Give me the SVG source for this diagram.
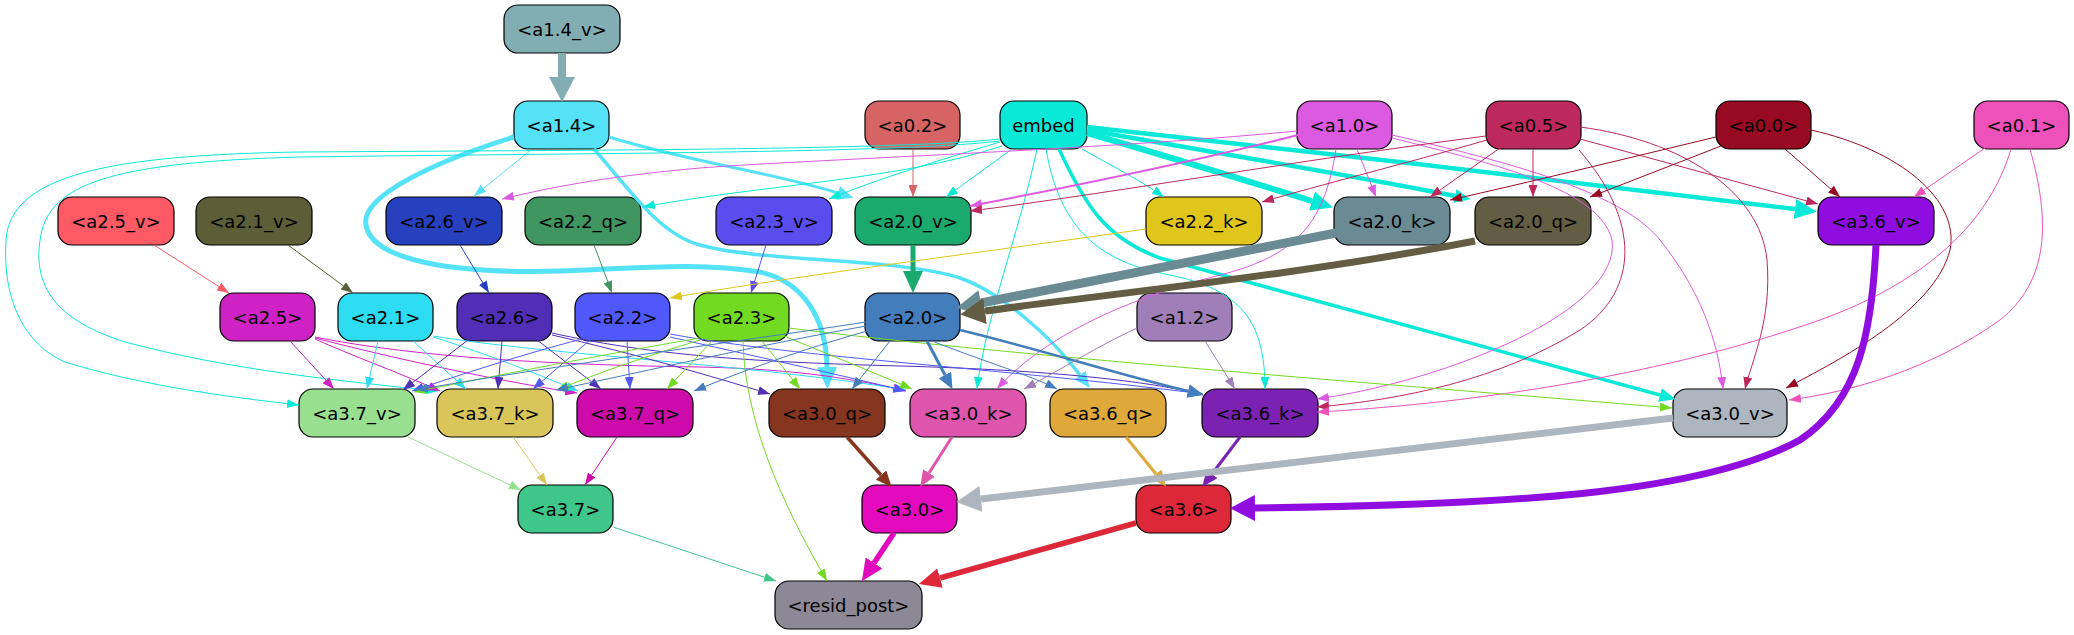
<svg xmlns="http://www.w3.org/2000/svg" width="2074" height="635" viewBox="0 0 2074 635">
<style>
.node rect{stroke:#000;stroke-width:1.2}
.node text{font-family:"DejaVu Sans","Liberation Sans",sans-serif;font-size:18px;text-anchor:middle;fill:#000}
#edges path{fill:none}
</style>
<defs>
<marker id="s-55e2f7" markerUnits="userSpaceOnUse" markerWidth="12" markerHeight="9" refX="12" refY="4.5" orient="auto"><path d="M0,0L12,4.5L0,9z" fill="#55e2f7"/></marker>
<marker id="s-0ae8d7" markerUnits="userSpaceOnUse" markerWidth="12" markerHeight="9" refX="12" refY="4.5" orient="auto"><path d="M0,0L12,4.5L0,9z" fill="#0ae8d7"/></marker>
<marker id="s-dc5ae0" markerUnits="userSpaceOnUse" markerWidth="12" markerHeight="9" refX="12" refY="4.5" orient="auto"><path d="M0,0L12,4.5L0,9z" fill="#dc5ae0"/></marker>
<marker id="s-bd295c" markerUnits="userSpaceOnUse" markerWidth="12" markerHeight="9" refX="12" refY="4.5" orient="auto"><path d="M0,0L12,4.5L0,9z" fill="#bd295c"/></marker>
<marker id="s-970a22" markerUnits="userSpaceOnUse" markerWidth="12" markerHeight="9" refX="12" refY="4.5" orient="auto"><path d="M0,0L12,4.5L0,9z" fill="#970a22"/></marker>
<marker id="s-ee51ba" markerUnits="userSpaceOnUse" markerWidth="12" markerHeight="9" refX="12" refY="4.5" orient="auto"><path d="M0,0L12,4.5L0,9z" fill="#ee51ba"/></marker>
<marker id="s-d66465" markerUnits="userSpaceOnUse" markerWidth="12" markerHeight="9" refX="12" refY="4.5" orient="auto"><path d="M0,0L12,4.5L0,9z" fill="#d66465"/></marker>
<marker id="s-fd5a66" markerUnits="userSpaceOnUse" markerWidth="12" markerHeight="9" refX="12" refY="4.5" orient="auto"><path d="M0,0L12,4.5L0,9z" fill="#fd5a66"/></marker>
<marker id="s-5b5e36" markerUnits="userSpaceOnUse" markerWidth="12" markerHeight="9" refX="12" refY="4.5" orient="auto"><path d="M0,0L12,4.5L0,9z" fill="#5b5e36"/></marker>
<marker id="s-2741be" markerUnits="userSpaceOnUse" markerWidth="12" markerHeight="9" refX="12" refY="4.5" orient="auto"><path d="M0,0L12,4.5L0,9z" fill="#2741be"/></marker>
<marker id="s-3f9660" markerUnits="userSpaceOnUse" markerWidth="12" markerHeight="9" refX="12" refY="4.5" orient="auto"><path d="M0,0L12,4.5L0,9z" fill="#3f9660"/></marker>
<marker id="s-5a4ded" markerUnits="userSpaceOnUse" markerWidth="12" markerHeight="9" refX="12" refY="4.5" orient="auto"><path d="M0,0L12,4.5L0,9z" fill="#5a4ded"/></marker>
<marker id="s-e0c61b" markerUnits="userSpaceOnUse" markerWidth="12" markerHeight="9" refX="12" refY="4.5" orient="auto"><path d="M0,0L12,4.5L0,9z" fill="#e0c61b"/></marker>
<marker id="s-cf22c5" markerUnits="userSpaceOnUse" markerWidth="12" markerHeight="9" refX="12" refY="4.5" orient="auto"><path d="M0,0L12,4.5L0,9z" fill="#cf22c5"/></marker>
<marker id="s-2ddcf0" markerUnits="userSpaceOnUse" markerWidth="12" markerHeight="9" refX="12" refY="4.5" orient="auto"><path d="M0,0L12,4.5L0,9z" fill="#2ddcf0"/></marker>
<marker id="s-502eb5" markerUnits="userSpaceOnUse" markerWidth="12" markerHeight="9" refX="12" refY="4.5" orient="auto"><path d="M0,0L12,4.5L0,9z" fill="#502eb5"/></marker>
<marker id="s-5158fa" markerUnits="userSpaceOnUse" markerWidth="12" markerHeight="9" refX="12" refY="4.5" orient="auto"><path d="M0,0L12,4.5L0,9z" fill="#5158fa"/></marker>
<marker id="s-72db21" markerUnits="userSpaceOnUse" markerWidth="12" markerHeight="9" refX="12" refY="4.5" orient="auto"><path d="M0,0L12,4.5L0,9z" fill="#72db21"/></marker>
<marker id="s-437dbc" markerUnits="userSpaceOnUse" markerWidth="12" markerHeight="9" refX="12" refY="4.5" orient="auto"><path d="M0,0L12,4.5L0,9z" fill="#437dbc"/></marker>
<marker id="s-a07fb8" markerUnits="userSpaceOnUse" markerWidth="12" markerHeight="9" refX="12" refY="4.5" orient="auto"><path d="M0,0L12,4.5L0,9z" fill="#a07fb8"/></marker>
<marker id="s-98e08f" markerUnits="userSpaceOnUse" markerWidth="12" markerHeight="9" refX="12" refY="4.5" orient="auto"><path d="M0,0L12,4.5L0,9z" fill="#98e08f"/></marker>
<marker id="s-d8c65a" markerUnits="userSpaceOnUse" markerWidth="12" markerHeight="9" refX="12" refY="4.5" orient="auto"><path d="M0,0L12,4.5L0,9z" fill="#d8c65a"/></marker>
<marker id="s-cd0aaa" markerUnits="userSpaceOnUse" markerWidth="12" markerHeight="9" refX="12" refY="4.5" orient="auto"><path d="M0,0L12,4.5L0,9z" fill="#cd0aaa"/></marker>
<marker id="s-3fc68b" markerUnits="userSpaceOnUse" markerWidth="12" markerHeight="9" refX="12" refY="4.5" orient="auto"><path d="M0,0L12,4.5L0,9z" fill="#3fc68b"/></marker>
<marker id="m-55e2f7" markerUnits="userSpaceOnUse" markerWidth="16" markerHeight="14" refX="0" refY="7" orient="auto"><path d="M0,0L16,7L0,14z" fill="#55e2f7"/></marker>
<marker id="m-0ae8d7" markerUnits="userSpaceOnUse" markerWidth="16" markerHeight="14" refX="0" refY="7" orient="auto"><path d="M0,0L16,7L0,14z" fill="#0ae8d7"/></marker>
<marker id="m-437dbc" markerUnits="userSpaceOnUse" markerWidth="16" markerHeight="14" refX="0" refY="7" orient="auto"><path d="M0,0L16,7L0,14z" fill="#437dbc"/></marker>
<marker id="m-86351e" markerUnits="userSpaceOnUse" markerWidth="16" markerHeight="14" refX="0" refY="7" orient="auto"><path d="M0,0L16,7L0,14z" fill="#86351e"/></marker>
<marker id="m-de55ad" markerUnits="userSpaceOnUse" markerWidth="16" markerHeight="14" refX="0" refY="7" orient="auto"><path d="M0,0L16,7L0,14z" fill="#de55ad"/></marker>
<marker id="m-dea83b" markerUnits="userSpaceOnUse" markerWidth="16" markerHeight="14" refX="0" refY="7" orient="auto"><path d="M0,0L16,7L0,14z" fill="#dea83b"/></marker>
<marker id="m-7c22b3" markerUnits="userSpaceOnUse" markerWidth="16" markerHeight="14" refX="0" refY="7" orient="auto"><path d="M0,0L16,7L0,14z" fill="#7c22b3"/></marker>
<marker id="l-55e2f7" markerUnits="userSpaceOnUse" markerWidth="22" markerHeight="20" refX="0" refY="10" orient="auto"><path d="M0,0L22,10L0,20z" fill="#55e2f7"/></marker>
<marker id="l-0ae8d7" markerUnits="userSpaceOnUse" markerWidth="22" markerHeight="20" refX="0" refY="10" orient="auto"><path d="M0,0L22,10L0,20z" fill="#0ae8d7"/></marker>
<marker id="l-1ba96e" markerUnits="userSpaceOnUse" markerWidth="22" markerHeight="20" refX="0" refY="10" orient="auto"><path d="M0,0L22,10L0,20z" fill="#1ba96e"/></marker>
<marker id="l-e30abe" markerUnits="userSpaceOnUse" markerWidth="22" markerHeight="20" refX="0" refY="10" orient="auto"><path d="M0,0L22,10L0,20z" fill="#e30abe"/></marker>
<marker id="l-dc2838" markerUnits="userSpaceOnUse" markerWidth="22" markerHeight="20" refX="0" refY="10" orient="auto"><path d="M0,0L22,10L0,20z" fill="#dc2838"/></marker>
<marker id="xl-82adb2" markerUnits="userSpaceOnUse" markerWidth="25" markerHeight="26" refX="0" refY="13" orient="auto"><path d="M0,0L25,13L0,26z" fill="#82adb2"/></marker>
<marker id="xl-6a8b93" markerUnits="userSpaceOnUse" markerWidth="25" markerHeight="26" refX="0" refY="13" orient="auto"><path d="M0,0L25,13L0,26z" fill="#6a8b93"/></marker>
<marker id="xl-635d43" markerUnits="userSpaceOnUse" markerWidth="25" markerHeight="26" refX="0" refY="13" orient="auto"><path d="M0,0L25,13L0,26z" fill="#635d43"/></marker>
<marker id="xl-900ddf" markerUnits="userSpaceOnUse" markerWidth="25" markerHeight="26" refX="0" refY="13" orient="auto"><path d="M0,0L25,13L0,26z" fill="#900ddf"/></marker>
<marker id="xl-adb6be" markerUnits="userSpaceOnUse" markerWidth="25" markerHeight="26" refX="0" refY="13" orient="auto"><path d="M0,0L25,13L0,26z" fill="#adb6be"/></marker>
</defs>
<rect x="0" y="0" width="2074" height="635" fill="#fff"/>
<g id="nodes">
<g id="n-a1_4_v" class="node"><rect x="504" y="5" width="116" height="48" rx="14" fill="#82adb2"/><text x="562" y="35.5">&lt;a1.4_v&gt;</text></g>
<g id="n-a1_4" class="node"><rect x="514" y="101" width="95" height="48" rx="14" fill="#55e2f7"/><text x="561.5" y="131.5">&lt;a1.4&gt;</text></g>
<g id="n-a0_2" class="node"><rect x="865" y="101" width="95" height="48" rx="14" fill="#d66465"/><text x="912.5" y="131.5">&lt;a0.2&gt;</text></g>
<g id="n-embed" class="node"><rect x="1000" y="101" width="87" height="48" rx="14" fill="#0ae8d7"/><text x="1043.5" y="131.5">embed</text></g>
<g id="n-a1_0" class="node"><rect x="1297" y="101" width="95" height="48" rx="14" fill="#dc5ae0"/><text x="1344.5" y="131.5">&lt;a1.0&gt;</text></g>
<g id="n-a0_5" class="node"><rect x="1486" y="101" width="95" height="48" rx="14" fill="#bd295c"/><text x="1533.5" y="131.5">&lt;a0.5&gt;</text></g>
<g id="n-a0_0" class="node"><rect x="1716" y="101" width="95" height="48" rx="14" fill="#970a22"/><text x="1763.5" y="131.5">&lt;a0.0&gt;</text></g>
<g id="n-a0_1" class="node"><rect x="1974" y="101" width="95" height="48" rx="14" fill="#ee51ba"/><text x="2021.5" y="131.5">&lt;a0.1&gt;</text></g>
<g id="n-a2_5_v" class="node"><rect x="58" y="197" width="116" height="48" rx="14" fill="#fd5a66"/><text x="116" y="227.5">&lt;a2.5_v&gt;</text></g>
<g id="n-a2_1_v" class="node"><rect x="196" y="197" width="116" height="48" rx="14" fill="#5b5e36"/><text x="254" y="227.5">&lt;a2.1_v&gt;</text></g>
<g id="n-a2_6_v" class="node"><rect x="386" y="197" width="116" height="48" rx="14" fill="#2741be"/><text x="444" y="227.5">&lt;a2.6_v&gt;</text></g>
<g id="n-a2_2_q" class="node"><rect x="525" y="197" width="116" height="48" rx="14" fill="#3f9660"/><text x="583" y="227.5">&lt;a2.2_q&gt;</text></g>
<g id="n-a2_3_v" class="node"><rect x="716" y="197" width="116" height="48" rx="14" fill="#5a4ded"/><text x="774" y="227.5">&lt;a2.3_v&gt;</text></g>
<g id="n-a2_0_v" class="node"><rect x="855" y="197" width="116" height="48" rx="14" fill="#1ba96e"/><text x="913" y="227.5">&lt;a2.0_v&gt;</text></g>
<g id="n-a2_2_k" class="node"><rect x="1146" y="197" width="116" height="48" rx="14" fill="#e0c61b"/><text x="1204" y="227.5">&lt;a2.2_k&gt;</text></g>
<g id="n-a2_0_k" class="node"><rect x="1334" y="197" width="116" height="48" rx="14" fill="#6a8b93"/><text x="1392" y="227.5">&lt;a2.0_k&gt;</text></g>
<g id="n-a2_0_q" class="node"><rect x="1475" y="197" width="116" height="48" rx="14" fill="#635d43"/><text x="1533" y="227.5">&lt;a2.0_q&gt;</text></g>
<g id="n-a3_6_v" class="node"><rect x="1818" y="197" width="116" height="48" rx="14" fill="#900ddf"/><text x="1876" y="227.5">&lt;a3.6_v&gt;</text></g>
<g id="n-a2_5" class="node"><rect x="220" y="293" width="95" height="48" rx="14" fill="#cf22c5"/><text x="267.5" y="323.5">&lt;a2.5&gt;</text></g>
<g id="n-a2_1" class="node"><rect x="338" y="293" width="95" height="48" rx="14" fill="#2ddcf0"/><text x="385.5" y="323.5">&lt;a2.1&gt;</text></g>
<g id="n-a2_6" class="node"><rect x="457" y="293" width="95" height="48" rx="14" fill="#502eb5"/><text x="504.5" y="323.5">&lt;a2.6&gt;</text></g>
<g id="n-a2_2" class="node"><rect x="575" y="293" width="95" height="48" rx="14" fill="#5158fa"/><text x="622.5" y="323.5">&lt;a2.2&gt;</text></g>
<g id="n-a2_3" class="node"><rect x="694" y="293" width="95" height="48" rx="14" fill="#72db21"/><text x="741.5" y="323.5">&lt;a2.3&gt;</text></g>
<g id="n-a2_0" class="node"><rect x="865" y="293" width="95" height="48" rx="14" fill="#437dbc"/><text x="912.5" y="323.5">&lt;a2.0&gt;</text></g>
<g id="n-a1_2" class="node"><rect x="1137" y="293" width="95" height="48" rx="14" fill="#a07fb8"/><text x="1184.5" y="323.5">&lt;a1.2&gt;</text></g>
<g id="n-a3_7_v" class="node"><rect x="299" y="389" width="116" height="48" rx="14" fill="#98e08f"/><text x="357" y="419.5">&lt;a3.7_v&gt;</text></g>
<g id="n-a3_7_k" class="node"><rect x="437" y="389" width="116" height="48" rx="14" fill="#d8c65a"/><text x="495" y="419.5">&lt;a3.7_k&gt;</text></g>
<g id="n-a3_7_q" class="node"><rect x="577" y="389" width="116" height="48" rx="14" fill="#cd0aaa"/><text x="635" y="419.5">&lt;a3.7_q&gt;</text></g>
<g id="n-a3_0_q" class="node"><rect x="769" y="389" width="116" height="48" rx="14" fill="#86351e"/><text x="827" y="419.5">&lt;a3.0_q&gt;</text></g>
<g id="n-a3_0_k" class="node"><rect x="910" y="389" width="116" height="48" rx="14" fill="#de55ad"/><text x="968" y="419.5">&lt;a3.0_k&gt;</text></g>
<g id="n-a3_6_q" class="node"><rect x="1050" y="389" width="116" height="48" rx="14" fill="#dea83b"/><text x="1108" y="419.5">&lt;a3.6_q&gt;</text></g>
<g id="n-a3_6_k" class="node"><rect x="1202" y="389" width="116" height="48" rx="14" fill="#7c22b3"/><text x="1260" y="419.5">&lt;a3.6_k&gt;</text></g>
<g id="n-a3_0_v" class="node"><rect x="1673" y="389" width="114" height="48" rx="14" fill="#adb6be"/><text x="1730" y="419.5">&lt;a3.0_v&gt;</text></g>
<g id="n-a3_7" class="node"><rect x="518" y="485" width="95" height="48" rx="14" fill="#3fc68b"/><text x="565.5" y="515.5">&lt;a3.7&gt;</text></g>
<g id="n-a3_0" class="node"><rect x="862" y="485" width="95" height="48" rx="14" fill="#e30abe"/><text x="909.5" y="515.5">&lt;a3.0&gt;</text></g>
<g id="n-a3_6" class="node"><rect x="1136" y="485" width="95" height="48" rx="14" fill="#dc2838"/><text x="1183.5" y="515.5">&lt;a3.6&gt;</text></g>
<g id="n-resid_post" class="node"><rect x="775" y="581" width="147" height="48" rx="14" fill="#8d8896"/><text x="848.5" y="611.5">&lt;resid_post&gt;</text></g>
</g>
<g id="edges">
<path d="M562,53 L562,77" stroke="#82adb2" stroke-width="8" marker-end="url(#xl-82adb2)"/>
<path d="M531,150 L474,196" stroke="#55e2f7" stroke-width="1" marker-end="url(#s-55e2f7)"/>
<path d="M609,137 C690,162 770,172 838,193" stroke="#55e2f7" stroke-width="3" marker-end="url(#m-55e2f7)"/>
<path d="M514,137 C440,160 360,195 366,225 C372,262 460,274 560,271 C640,268 700,262 760,272 C805,282 826,320 827,367" stroke="#55e2f7" stroke-width="5" marker-end="url(#l-55e2f7)"/>
<path d="M594,149 C630,190 660,235 700,245 C760,262 900,258 960,278 C1000,292 1050,335 1080,375" stroke="#55e2f7" stroke-width="3.5" marker-end="url(#m-55e2f7)"/>
<path d="M913,149 L913,197" stroke="#d66465" stroke-width="1" marker-end="url(#s-d66465)"/>
<path d="M1012,149 L946,197" stroke="#0ae8d7" stroke-width="1" marker-end="url(#s-0ae8d7)"/>
<path d="M1000,142 C940,160 880,178 829,199" stroke="#0ae8d7" stroke-width="1" marker-end="url(#s-0ae8d7)"/>
<path d="M1002,146 C900,180 760,185 643,207" stroke="#0ae8d7" stroke-width="1" marker-end="url(#s-0ae8d7)"/>
<path d="M1000,139 C900,150 600,150 300,152 C110,155 10,175 6,240 C2,300 25,345 65,362 C140,385 220,396 299,405" stroke="#0ae8d7" stroke-width="1" marker-end="url(#s-0ae8d7)"/>
<path d="M1000,141 C900,153 600,153 300,157 C120,162 55,182 42,230 C28,290 62,322 125,342 C230,370 340,381 438,391" stroke="#0ae8d7" stroke-width="1" marker-end="url(#s-0ae8d7)"/>
<path d="M1082,149 C1110,165 1140,180 1164,197" stroke="#0ae8d7" stroke-width="1" marker-end="url(#s-0ae8d7)"/>
<path d="M1087,133 C1180,160 1260,185 1312,201" stroke="#0ae8d7" stroke-width="6" marker-end="url(#l-0ae8d7)"/>
<path d="M1087,130 C1200,150 1350,175 1455,196" stroke="#0ae8d7" stroke-width="4.5" marker-end="url(#m-0ae8d7)"/>
<path d="M1087,127 C1300,150 1600,185 1795,209" stroke="#0ae8d7" stroke-width="4.5" marker-end="url(#l-0ae8d7)"/>
<path d="M1059,149 C1085,205 1105,238 1160,258 L1660,395" stroke="#0ae8d7" stroke-width="3.5" marker-end="url(#m-0ae8d7)"/>
<path d="M1037,149 C1020,230 985,320 977,389" stroke="#0ae8d7" stroke-width="1" marker-end="url(#s-0ae8d7)"/>
<path d="M1046,149 C1060,230 1100,262 1170,275 C1240,290 1265,320 1265,389" stroke="#0ae8d7" stroke-width="1" marker-end="url(#s-0ae8d7)"/>
<path d="M1297,131 C1100,150 800,160 700,168 C620,175 560,185 502,199" stroke="#dc5ae0" stroke-width="1" marker-end="url(#s-dc5ae0)"/>
<path d="M1298,135 C1200,160 1080,185 970,206" stroke="#dc5ae0" stroke-width="2" marker-end="url(#s-dc5ae0)"/>
<path d="M1357,149 L1376,197" stroke="#dc5ae0" stroke-width="1" marker-end="url(#s-dc5ae0)"/>
<path d="M1336,149 C1325,220 1300,255 1220,275 C1120,300 1040,340 997,389" stroke="#dc5ae0" stroke-width="1" marker-end="url(#s-dc5ae0)"/>
<path d="M1392,135 C1500,160 1620,190 1660,240 C1700,290 1718,340 1723,389" stroke="#dc5ae0" stroke-width="1" marker-end="url(#s-dc5ae0)"/>
<path d="M1392,138 C1500,165 1600,190 1612,240 C1622,310 1450,380 1317,399" stroke="#dc5ae0" stroke-width="1" marker-end="url(#s-dc5ae0)"/>
<path d="M1486,136 C1300,160 1100,195 970,211" stroke="#bd295c" stroke-width="1" marker-end="url(#s-bd295c)"/>
<path d="M1487,140 C1400,165 1320,185 1262,202" stroke="#bd295c" stroke-width="1" marker-end="url(#s-bd295c)"/>
<path d="M1500,148 L1430,197" stroke="#bd295c" stroke-width="1" marker-end="url(#s-bd295c)"/>
<path d="M1533,149 L1533,197" stroke="#bd295c" stroke-width="1" marker-end="url(#s-bd295c)"/>
<path d="M1580,139 L1818,204" stroke="#bd295c" stroke-width="1" marker-end="url(#s-bd295c)"/>
<path d="M1580,127 C1680,140 1760,190 1767,260 C1772,320 1752,360 1745,389" stroke="#bd295c" stroke-width="1" marker-end="url(#s-bd295c)"/>
<path d="M1579,150 C1640,220 1640,290 1580,330 C1500,380 1400,400 1317,407" stroke="#bd295c" stroke-width="1" marker-end="url(#s-bd295c)"/>
<path d="M1716,137 C1620,160 1530,182 1450,200" stroke="#970a22" stroke-width="1" marker-end="url(#s-970a22)"/>
<path d="M1721,146 L1590,197" stroke="#970a22" stroke-width="1" marker-end="url(#s-970a22)"/>
<path d="M1785,149 L1840,197" stroke="#970a22" stroke-width="1" marker-end="url(#s-970a22)"/>
<path d="M1811,130 C1900,150 1960,200 1950,250 C1935,310 1840,360 1786,388" stroke="#970a22" stroke-width="1" marker-end="url(#s-970a22)"/>
<path d="M1985,148 L1914,197" stroke="#ee51ba" stroke-width="1" marker-end="url(#s-ee51ba)"/>
<path d="M2030,149 C2050,220 2050,280 2000,320 C1930,370 1850,392 1789,400" stroke="#ee51ba" stroke-width="1" marker-end="url(#s-ee51ba)"/>
<path d="M2011,149 C1990,220 1930,280 1820,320 C1650,380 1450,405 1317,412" stroke="#ee51ba" stroke-width="1" marker-end="url(#s-ee51ba)"/>
<path d="M154,245 L229,293" stroke="#fd5a66" stroke-width="1" marker-end="url(#s-fd5a66)"/>
<path d="M288,245 L353,293" stroke="#5b5e36" stroke-width="1" marker-end="url(#s-5b5e36)"/>
<path d="M460,245 L489,293" stroke="#2741be" stroke-width="1" marker-end="url(#s-2741be)"/>
<path d="M594,245 L612,293" stroke="#3f9660" stroke-width="1" marker-end="url(#s-3f9660)"/>
<path d="M766,245 L751,293" stroke="#5a4ded" stroke-width="1" marker-end="url(#s-5a4ded)"/>
<path d="M913,245 L913,271" stroke="#1ba96e" stroke-width="5" marker-end="url(#l-1ba96e)"/>
<path d="M1146,229 C1000,250 800,275 670,298" stroke="#e0c61b" stroke-width="1" marker-end="url(#s-e0c61b)"/>
<path d="M1336,233 L981,303" stroke="#6a8b93" stroke-width="9" marker-end="url(#xl-6a8b93)"/>
<path d="M1475,241 C1300,275 1100,295 985,311" stroke="#635d43" stroke-width="7" marker-end="url(#xl-635d43)"/>
<path d="M1876,245 C1872,330 1860,400 1800,440 C1700,495 1500,505 1255,508" stroke="#900ddf" stroke-width="7" marker-end="url(#xl-900ddf)"/>
<path d="M290,341 L334,389" stroke="#cf22c5" stroke-width="1" marker-end="url(#s-cf22c5)"/>
<path d="M315,339 C350,355 400,373 440,391" stroke="#cf22c5" stroke-width="1" marker-end="url(#s-cf22c5)"/>
<path d="M315,338 C400,360 500,381 577,393" stroke="#cf22c5" stroke-width="1" marker-end="url(#s-cf22c5)"/>
<path d="M315,337 C420,358 560,365 700,367 C800,369 860,380 905,391" stroke="#cf22c5" stroke-width="1" marker-end="url(#s-cf22c5)"/>
<path d="M378,341 L367,389" stroke="#2ddcf0" stroke-width="1" marker-end="url(#s-2ddcf0)"/>
<path d="M413,341 L466,389" stroke="#2ddcf0" stroke-width="1" marker-end="url(#s-2ddcf0)"/>
<path d="M433,337 C490,355 540,375 578,391" stroke="#2ddcf0" stroke-width="1" marker-end="url(#s-2ddcf0)"/>
<path d="M433,336 C550,355 750,364 906,390" stroke="#2ddcf0" stroke-width="1" marker-end="url(#s-2ddcf0)"/>
<path d="M468,340 L403,390" stroke="#502eb5" stroke-width="1" marker-end="url(#s-502eb5)"/>
<path d="M502,341 L498,389" stroke="#502eb5" stroke-width="1" marker-end="url(#s-502eb5)"/>
<path d="M537,340 L601,389" stroke="#502eb5" stroke-width="1" marker-end="url(#s-502eb5)"/>
<path d="M552,335 C640,355 710,376 770,394" stroke="#502eb5" stroke-width="1" marker-end="url(#s-502eb5)"/>
<path d="M552,333 C650,355 750,362 900,366 C1050,370 1150,381 1203,395" stroke="#502eb5" stroke-width="1" marker-end="url(#s-502eb5)"/>
<path d="M582,339 C520,355 460,375 412,391" stroke="#5158fa" stroke-width="1" marker-end="url(#s-5158fa)"/>
<path d="M590,340 L533,389" stroke="#5158fa" stroke-width="1" marker-end="url(#s-5158fa)"/>
<path d="M627,341 L630,389" stroke="#5158fa" stroke-width="1" marker-end="url(#s-5158fa)"/>
<path d="M670,337 C750,355 840,375 906,391" stroke="#5158fa" stroke-width="1" marker-end="url(#s-5158fa)"/>
<path d="M670,334 C800,358 1000,368 1203,394" stroke="#5158fa" stroke-width="1" marker-end="url(#s-5158fa)"/>
<path d="M700,338 C600,355 500,375 414,392" stroke="#72db21" stroke-width="1" marker-end="url(#s-72db21)"/>
<path d="M700,340 C650,355 600,372 557,390" stroke="#72db21" stroke-width="1" marker-end="url(#s-72db21)"/>
<path d="M712,341 L667,389" stroke="#72db21" stroke-width="1" marker-end="url(#s-72db21)"/>
<path d="M762,341 L800,389" stroke="#72db21" stroke-width="1" marker-end="url(#s-72db21)"/>
<path d="M784,336 C830,355 880,375 912,389" stroke="#72db21" stroke-width="1" marker-end="url(#s-72db21)"/>
<path d="M789,328 C1000,355 1400,385 1672,408" stroke="#72db21" stroke-width="1" marker-end="url(#s-72db21)"/>
<path d="M743,341 C745,420 780,500 827,581" stroke="#72db21" stroke-width="1" marker-end="url(#s-72db21)"/>
<path d="M866,322 C750,340 550,366 416,390" stroke="#437dbc" stroke-width="1" marker-end="url(#s-437dbc)"/>
<path d="M866,326 C760,345 650,370 556,390" stroke="#437dbc" stroke-width="1" marker-end="url(#s-437dbc)"/>
<path d="M867,331 C800,350 740,372 694,391" stroke="#437dbc" stroke-width="1" marker-end="url(#s-437dbc)"/>
<path d="M890,341 L852,389" stroke="#437dbc" stroke-width="1" marker-end="url(#s-437dbc)"/>
<path d="M927,341 L945,375" stroke="#437dbc" stroke-width="3" marker-end="url(#m-437dbc)"/>
<path d="M932,341 C980,360 1030,375 1057,389" stroke="#437dbc" stroke-width="1" marker-end="url(#s-437dbc)"/>
<path d="M960,330 C1050,352 1120,375 1188,391" stroke="#437dbc" stroke-width="2.5" marker-end="url(#m-437dbc)"/>
<path d="M1137,328 C1100,345 1060,370 1024,389" stroke="#a07fb8" stroke-width="1" marker-end="url(#s-a07fb8)"/>
<path d="M1205,341 L1235,389" stroke="#a07fb8" stroke-width="1" marker-end="url(#s-a07fb8)"/>
<path d="M408,437 L521,490" stroke="#98e08f" stroke-width="1" marker-end="url(#s-98e08f)"/>
<path d="M513,437 L547,485" stroke="#d8c65a" stroke-width="1" marker-end="url(#s-d8c65a)"/>
<path d="M617,437 L585,485" stroke="#cd0aaa" stroke-width="1" marker-end="url(#s-cd0aaa)"/>
<path d="M847,437 L881,475" stroke="#86351e" stroke-width="3.5" marker-end="url(#m-86351e)"/>
<path d="M952,437 L929,473" stroke="#de55ad" stroke-width="3" marker-end="url(#m-de55ad)"/>
<path d="M1126,437 L1156,474" stroke="#dea83b" stroke-width="3" marker-end="url(#m-dea83b)"/>
<path d="M1240,437 L1212,474" stroke="#7c22b3" stroke-width="3" marker-end="url(#m-7c22b3)"/>
<path d="M1673,418 L981,499" stroke="#adb6be" stroke-width="7" marker-end="url(#xl-adb6be)"/>
<path d="M613,527 L776,581" stroke="#3fc68b" stroke-width="1" marker-end="url(#s-3fc68b)"/>
<path d="M894,533 L874,563" stroke="#e30abe" stroke-width="5.5" marker-end="url(#l-e30abe)"/>
<path d="M1136,523 L940,578" stroke="#dc2838" stroke-width="5.5" marker-end="url(#l-dc2838)"/>
</g>
</svg>
